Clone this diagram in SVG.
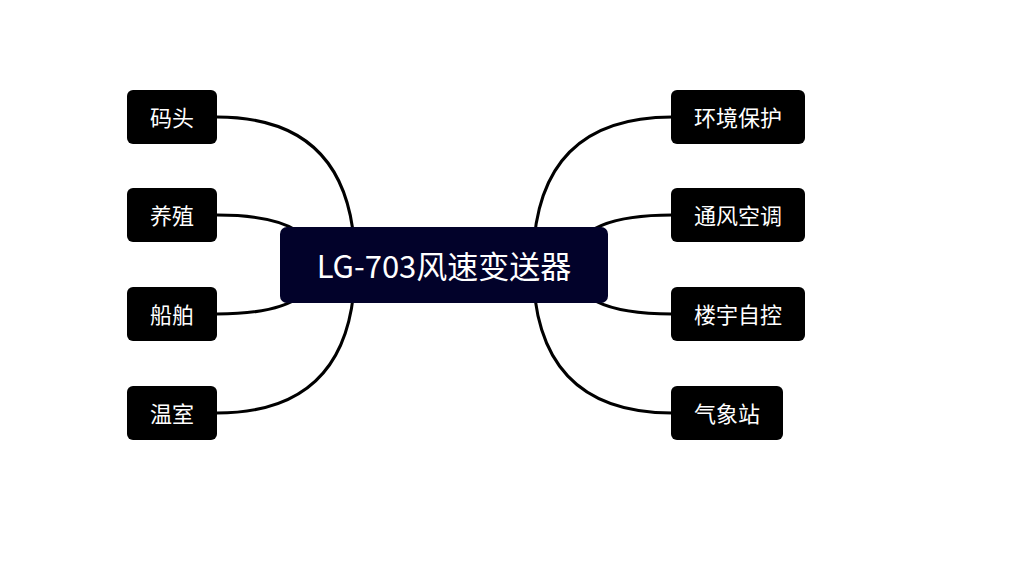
<svg xmlns="http://www.w3.org/2000/svg" width="1010" height="577" viewBox="0 0 1010 577">
<style>
.link{fill:none;stroke:#000;stroke-width:3}
.leaf rect{fill:#000}
.leaf text{fill:#fff;font-family:"Noto Sans CJK SC","Noto Sans",sans-serif;font-size:22px;text-anchor:middle;dominant-baseline:central}
.root rect{fill:#02022a}
.root text{fill:#fff;font-family:"Noto Sans CJK SC","Noto Sans",sans-serif;font-size:31px;text-anchor:middle;dominant-baseline:central}
</style>
<rect width="1010" height="577" fill="#fff"/>
<g id="connectors">
<path class="link" d="M355,265 Q355,117 217,117"/>
<path class="link" d="M316,265 Q316,215 217,215"/>
<path class="link" d="M316,265 Q316,314 217,314"/>
<path class="link" d="M355,265 Q355,413 217,413"/>
<path class="link" d="M533,265 Q533,117 672,117"/>
<path class="link" d="M572,265 Q572,215 672,215"/>
<path class="link" d="M572,265 Q572,314 672,314"/>
<path class="link" d="M533,265 Q533,413 672,413"/>
</g>
<g id="root" class="root"><rect x="280" y="227" width="328" height="76" rx="7"/><text x="444" y="264">LG-703风速变送器</text></g>
<g id="n-matou" class="leaf"><rect x="127" y="90" width="90" height="54" rx="6"/><text x="172" y="116">码头</text></g>
<g id="n-yangzhi" class="leaf"><rect x="127" y="188" width="90" height="54" rx="6"/><text x="172" y="214">养殖</text></g>
<g id="n-chuanbo" class="leaf"><rect x="127" y="287" width="90" height="54" rx="6"/><text x="172" y="313">船舶</text></g>
<g id="n-wenshi" class="leaf"><rect x="127" y="386" width="90" height="54" rx="6"/><text x="172" y="412">温室</text></g>
<g id="n-huanjing" class="leaf"><rect x="671" y="90" width="134" height="54" rx="6"/><text x="738" y="116">环境保护</text></g>
<g id="n-tongfeng" class="leaf"><rect x="671" y="188" width="134" height="54" rx="6"/><text x="738" y="214">通风空调</text></g>
<g id="n-louyu" class="leaf"><rect x="671" y="287" width="134" height="54" rx="6"/><text x="738" y="313">楼宇自控</text></g>
<g id="n-qixiang" class="leaf"><rect x="671" y="386" width="112" height="54" rx="6"/><text x="727" y="412">气象站</text></g>
</svg>
